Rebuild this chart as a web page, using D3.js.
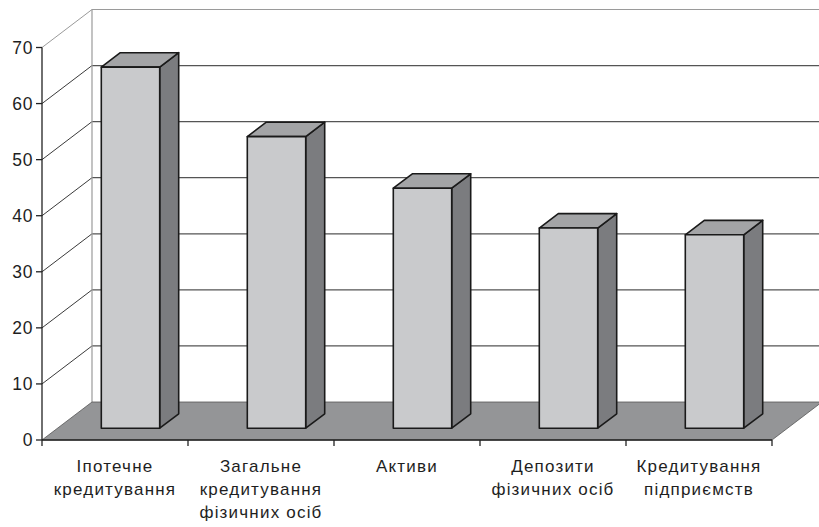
<!DOCTYPE html>
<html>
<head>
<meta charset="utf-8">
<script src="https://cdn.jsdelivr.net/npm/d3@7/dist/d3.min.js"></script>
<style>
  html, body { margin: 0; padding: 0; background: #fff; }
  svg { display: block; }
  text { font-family: "Liberation Sans", Arial, sans-serif; fill: #1e1e1e; }
</style>
</head>
<body>
<svg id="chart" width="819" height="527"></svg>
<script>
// Category labels (each entry is a list of lines)
const categories = [
  ["Іпотечне", "кредитування"],
  ["Загальне", "кредитування", "фізичних осіб"],
  ["Активи"],
  ["Депозити", "фізичних осіб"],
  ["Кредитування", "підприємств"]
];
const values = [64.4, 52.0, 42.8, 35.7, 34.5];
const yTicks = [0, 10, 20, 30, 40, 50, 60, 70];

const svg = d3.select("#chart");
const W = 819;

// plot frame (front plane) and 3D depth offset
const x0 = 42, x1 = 772, yBase = 440, yTop = 47.5;
const depth = { dx: 50, dy: -38 };
const barFront = 0.31, barBack = 0.69;   // bar depth within the floor

const y = d3.scaleLinear().domain([0, 70]).range([yBase, yTop]);
const keys = categories.map((c, i) => i);
const xCat = d3.scaleBand().domain(keys).range([x0, x1]).padding(0);
const xBar = d3.scaleBand().domain(keys).range([x0, x1]).paddingInner(0.6).paddingOuter(0.3);

const off = t => [depth.dx * t, depth.dy * t];
const poly = pts => "M" + pts.map(p => p.join(",")).join("L") + "Z";

// back wall gridlines and left wall diagonals
const grid = svg.append("g");
yTicks.filter(v => v > 0).forEach(v => {
  const yy = y(v);
  const col = v === 70 ? "#9a9a9a" : "#3a3a3a";
  grid.append("line")
    .attr("x1", x0).attr("y1", yy)
    .attr("x2", x0 + depth.dx).attr("y2", yy + depth.dy)
    .attr("stroke", col).attr("stroke-width", 1);
  grid.append("line")
    .attr("x1", x0 + depth.dx).attr("y1", yy + depth.dy)
    .attr("x2", W).attr("y2", yy + depth.dy)
    .attr("stroke", v === 70 ? "#9a9a9a" : "#555").attr("stroke-width", 1.2);
});
// back wall left edge
grid.append("line")
  .attr("x1", x0 + depth.dx).attr("y1", y(70) + depth.dy)
  .attr("x2", x0 + depth.dx).attr("y2", y(0) + depth.dy)
  .attr("stroke", "#9a9a9a").attr("stroke-width", 1.2);

// floor
svg.append("path")
  .attr("d", poly([[x0, yBase], [x1, yBase], [x1 + depth.dx, yBase + depth.dy], [x0 + depth.dx, yBase + depth.dy]]))
  .attr("fill", "#949597").attr("stroke", "#555").attr("stroke-width", 0.8);

// bars
const [fdx, fdy] = off(barFront);
const [bdx, bdy] = off(barBack - barFront);
const bars = svg.append("g");
values.forEach((v, i) => {
  const xl = xBar(i) + fdx, xr = xl + xBar.bandwidth();
  const yt = y(v) + fdy, yb = y(0) + fdy;
  const g = bars.append("g").attr("stroke", "#1a1a1a").attr("stroke-width", 1.6).attr("stroke-linejoin", "round");
  // right side
  g.append("path").attr("d", poly([[xr, yt], [xr + bdx, yt + bdy], [xr + bdx, yb + bdy], [xr, yb]]))
    .attr("fill", "#7b7c7f");
  // top
  g.append("path").attr("d", poly([[xl, yt], [xl + bdx, yt + bdy], [xr + bdx, yt + bdy], [xr, yt]]))
    .attr("fill", "#a3a4a6");
  // front
  g.append("path").attr("d", poly([[xl, yt], [xr, yt], [xr, yb], [xl, yb]]))
    .attr("fill", "#c9cacc");
});

// value axis
const yAxis = svg.append("g");
yAxis.append("line").attr("x1", x0).attr("x2", x0).attr("y1", y(70)).attr("y2", y(0))
  .attr("stroke", "#222").attr("stroke-width", 1.3);
yTicks.forEach(v => {
  yAxis.append("line").attr("x1", x0 - 6).attr("x2", x0).attr("y1", y(v)).attr("y2", y(v))
    .attr("stroke", "#222").attr("stroke-width", 1.3);
  yAxis.append("text").attr("x", 33).attr("y", y(v)).attr("dy", "0.36em")
    .attr("text-anchor", "end").attr("font-size", 17.5).attr("letter-spacing", 0.6)
    .text(v);
});

// category axis
const xAxis = svg.append("g");
xAxis.append("line").attr("x1", x0).attr("x2", x1).attr("y1", yBase).attr("y2", yBase)
  .attr("stroke", "#222").attr("stroke-width", 1.3);
keys.concat([keys.length]).forEach(i => {
  const xx = i < keys.length ? xCat(i) : x1;
  xAxis.append("line").attr("x1", xx).attr("x2", xx).attr("y1", yBase).attr("y2", yBase + 6)
    .attr("stroke", "#222").attr("stroke-width", 1.3);
});
categories.forEach((lines, i) => {
  const cx = xCat(i) + xCat.bandwidth() / 2;
  const t = xAxis.append("text")
    .attr("x", cx).attr("y", 472)
    .attr("text-anchor", "middle").attr("font-size", 17).attr("letter-spacing", 1.2);
  lines.forEach((ln, k) => {
    t.append("tspan").attr("x", cx).attr("y", 472 + k * 23).text(ln);
  });
});
</script>
</body>
</html>
